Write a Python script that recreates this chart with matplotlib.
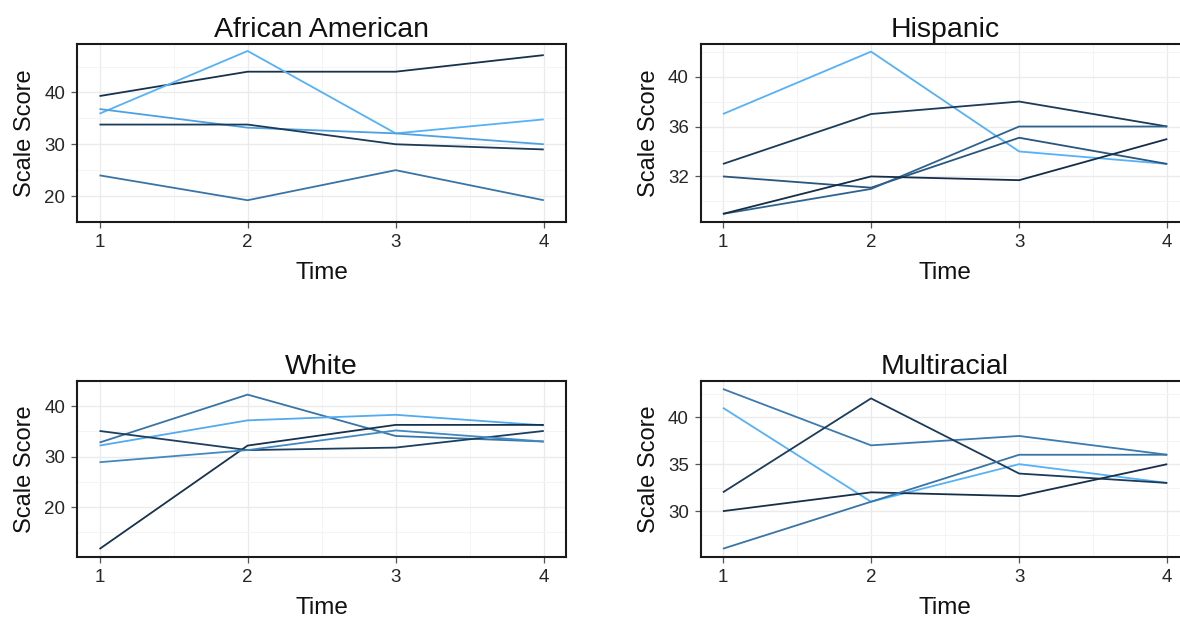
import matplotlib
matplotlib.use("Agg")
import matplotlib.pyplot as plt
import numpy as np
from matplotlib.colors import to_rgb

plt.rcParams['font.family'] = ['Liberation Sans', 'DejaVu Sans']

time = [1, 2, 3, 4]

# ---- data ----
aa_series = [
    [39.3, 44.0, 44.0, 47.2],
    [35.9, 48.0, 32.1, 34.8],
    [36.8, 33.2, 32.1, 30.0],
    [33.8, 33.8, 30.0, 29.0],
    [24.0, 19.2, 25.0, 19.2],
]
aa_level = [0.05, 1.0, 0.88, 0.12, 0.55]

hisp_series = [
    [37.0, 42.0, 34.0, 33.0],
    [33.0, 37.0, 38.0, 36.0],
    [32.0, 31.1, 35.1, 33.0],
    [29.0, 31.0, 36.0, 36.0],
    [29.0, 32.0, 31.7, 35.0],
]
hisp_level = [1.0, 0.12, 0.32, 0.42, 0.02]

white_series = [
    [32.8, 42.3, 34.1, 33.0],
    [32.2, 37.2, 38.3, 36.2],
    [35.1, 31.3, 31.8, 35.1],
    [11.7, 32.2, 36.3, 36.3],
    [28.9, 31.3, 35.2, 33.0],
]
white_level = [0.55, 0.95, 0.15, 0.05, 0.7]

multi_series = [
    [43.0, 37.0, 38.0, 36.0],
    [41.0, 31.0, 35.0, 33.0],
    [32.0, 42.0, 34.0, 33.0],
    [30.0, 32.0, 31.6, 35.0],
    [26.0, 31.0, 36.0, 36.0],
]
multi_level = [0.6, 1.0, 0.12, 0.04, 0.55]

panel_titles = ["African American", "Hispanic", "White", "Multiracial"]
panel_series = [aa_series, hisp_series, white_series, multi_series]
panel_levels = [aa_level, hisp_level, white_level, multi_level]
panel_ybreaks = [[20, 30, 40], [32, 36, 40], [20, 30, 40], [30, 35, 40]]
x_ticks = [1, 2, 3, 4]

low = np.array(to_rgb("#132B43"))
high = np.array(to_rgb("#56B1F7"))

def grad(v):
    return tuple(low + (high - low) * v)

W, H = 1180, 617
fig = plt.figure(figsize=(W / 100, H / 100), dpi=100)

# pixel boxes: left, top, right, bottom
boxes = [
    (77.3, 43.5, 566.0, 222.0),
    (700.7, 43.5, 1189.5, 222.0),
    (77.3, 381.0, 566.0, 556.7),
    (700.7, 381.0, 1189.5, 556.7),
]

for i in range(4):
    l, t, r, b = boxes[i]
    ax = fig.add_axes([l / W, 1 - b / H, (r - l) / W, (b - t) / H])
    series = panel_series[i]
    for s, lv in zip(series, panel_levels[i]):
        ax.plot(time, s, color=grad(lv), lw=1.3, solid_capstyle='butt', zorder=3)
    allv = np.array(series).ravel()
    lo, hi = allv.min(), allv.max()
    pad = (hi - lo) * 0.05
    ax.set_ylim(lo - pad, hi + pad)
    ax.set_xlim(1 - 0.15, 4 + 0.15)
    yb = panel_ybreaks[i]
    ax.set_yticks(yb)
    step = yb[1] - yb[0]
    minors = [v + step / 2 for v in [yb[0] - step] + yb]
    ax.set_yticks(minors, minor=True)
    ax.set_xticks(x_ticks)
    ax.set_xticks([1.5, 2.5, 3.5], minor=True)
    ax.grid(True, which='major', color='#EBEBEB', lw=1.0)
    ax.grid(True, which='minor', color='#F4F4F4', lw=0.7)
    ax.set_axisbelow(True)
    for sp in ax.spines.values():
        sp.set_color('#1a1a1a')
        sp.set_linewidth(1.5)
    ax.tick_params(which='major', length=4.5, width=0.9, color='#555555',
                   labelsize=13.5, labelcolor='#262626', pad=4)
    ax.tick_params(which='minor', length=0)
    ax.set_title(panel_titles[i], fontsize=20.5, pad=5, color='#111111')
    ax.set_xlabel("Time", fontsize=17.5, labelpad=8, color='#111111')
    ax.set_ylabel("Scale Score", fontsize=17, labelpad=6, color='#111111')

fig.savefig("out.png", dpi=100)
